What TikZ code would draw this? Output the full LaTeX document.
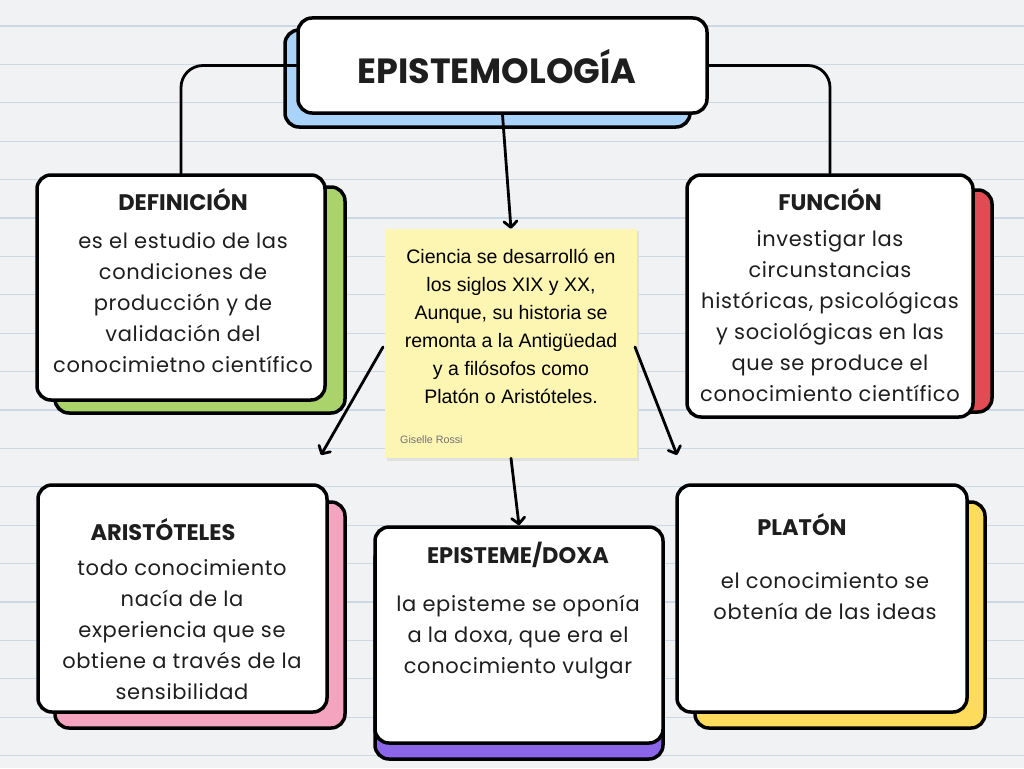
\documentclass[tikz,border=0pt]{standalone}
\usepackage{fontspec}
\setmainfont{Poppins}
\newfontfamily\bodyfont[LetterSpace=3]{Poppins}
\newfontfamily\stickyfont{Liberation Sans}
\usetikzlibrary{arrows.meta}
\definecolor{paper}{HTML}{F1F2F4}
\definecolor{rule}{HTML}{CDD8E7}
\definecolor{cblue}{HTML}{A9D3F9}
\definecolor{cgreen}{HTML}{AAD36C}
\definecolor{cred}{HTML}{E14B54}
\definecolor{cpink}{HTML}{F5A4C0}
\definecolor{cpurple}{HTML}{8C66E8}
\definecolor{cyellow}{HTML}{FDDC5D}
\definecolor{sticky}{HTML}{FDF5B2}
\definecolor{ink}{HTML}{1E1E1E}
\tikzset{
  card/.style={draw=black, line width=3.5pt, rounded corners=14pt, fill=white, inner sep=0pt},
  backcard/.style={card, fill=#1},
  heading/.style={font=\bfseries\fontsize{22.5}{26}\selectfont, text=ink},
  body/.style={font=\bodyfont\fontsize{21}{31}\selectfont, text=ink, align=center, inner sep=0pt},
  link/.style={draw=black, line width=2.8pt, line cap=round},
  arrowlink/.style={link, -{Straight Barb[round,length=6pt,width=13pt]}},
}
\begin{document}
\begin{tikzpicture}[x=1pt,y=-1pt]
\useasboundingbox (0,0) rectangle (1024,768);
\fill[paper] (0,0) rectangle (1024,768);
\foreach \k in {0,...,19} {
  \draw[rule, line width=1.3pt] (0,26+38.4*\k) -- (1024,26+38.4*\k);
}

% sticky note
\fill[black!12] (387,231) rectangle (639,461);
\node[fill=sticky, minimum width=252pt, minimum height=229pt, inner sep=0pt] (sticky) at (511,343.5) {};
\node[font=\stickyfont\fontsize{19.5}{28}\selectfont, align=center, inner sep=0pt] (stickytext) at (511,326)
  {Ciencia se desarrolló en\\los siglos XIX y XX,\\Aunque, su historia se\\remonta a la Antigüedad\\y a filósofos como\\Platón o Aristóteles.};
\node[font=\stickyfont\fontsize{10.7}{12}\selectfont, text=black!55, anchor=west, inner sep=0pt] (author) at (400,440) {Giselle Rossi};

% back cards
\node[backcard=cblue, minimum width=405pt, minimum height=97pt] (titleback) at (487.5,78.5) {};
\node[backcard=cgreen, minimum width=290pt, minimum height=226pt] (defback) at (200,300) {};
\node[backcard=cred, minimum width=287pt, minimum height=222pt] (funcback) at (848.5,301) {};
\node[backcard=cpink, minimum width=290pt, minimum height=226pt] (arisback) at (200,615) {};
\node[backcard=cpurple, minimum width=288pt, minimum height=214pt] (epiback) at (519,652) {};
\node[backcard=cyellow, minimum width=290pt, minimum height=226pt] (platback) at (840,615) {};

% front cards
\node[card, minimum width=409pt, minimum height=95pt] (title) at (502.5,65.5) {};
\node[card, minimum width=288pt, minimum height=225pt] (def) at (181,287.5) {};
\node[card, minimum width=286pt, minimum height=242pt] (func) at (830,296) {};
\node[card, minimum width=289pt, minimum height=227pt] (aris) at (182.5,598.5) {};
\node[card, minimum width=288pt, minimum height=216pt] (epi) at (519,635) {};
\node[card, minimum width=290pt, minimum height=227pt] (plat) at (822,598.5) {};

% title text
\node[font=\bfseries\fontsize{35}{38}\selectfont, text=ink] (titletext) at (497,67) {EPISTEMOLOGÍA};

% headings
\node[heading] (defhead) at (183,200) {DEFINICIÓN};
\node[heading] (funchead) at (830,200) {FUNCIÓN};
\node[heading] (arishead) at (163,530) {ARISTÓTELES};
\node[heading] (epihead) at (518,555) {EPISTEME/DOXA};
\node[heading] (plathead) at (802,525) {PLATÓN};

% bodies
\node[body] (defbody) at (183,302.5) {es el estudio de las\\condiciones de\\producción y de\\validación del\\conocimietno científico};
\node[body] (funcbody) at (830,316.5) {investigar las\\circunstancias\\históricas, psicológicas\\y sociológicas en las\\que se produce el\\conocimiento científico};
\node[body] (arisbody) at (182,630) {todo conocimiento\\nacía de la\\experiencia que se\\obtiene a través de la\\sensibilidad};
\node[body] (epibody) at (518,637) {la episteme se oponía\\a la doxa, que era el\\conocimiento vulgar};
\node[body] (platbody) at (825,596.5) {el conocimiento se\\obtenía de las ideas};

% free ends of arrows
\coordinate (leftend) at (321,455);
\coordinate (rightend) at (677,455);
\coordinate (leftstart) at (383,347);
\coordinate (rightstart) at (635,347);

% connectors
\draw[link, rounded corners=22pt] (title.west) -| (def.north);
\draw[link, rounded corners=22pt] (title.east) -| (func.north);
\draw[arrowlink] (title.south) -- (sticky.north);
\draw[arrowlink] (leftstart) -- (leftend);
\draw[arrowlink] (rightstart) -- (rightend);
\draw[arrowlink] (sticky.south) -- (epi.north);
\end{tikzpicture}
\end{document}
